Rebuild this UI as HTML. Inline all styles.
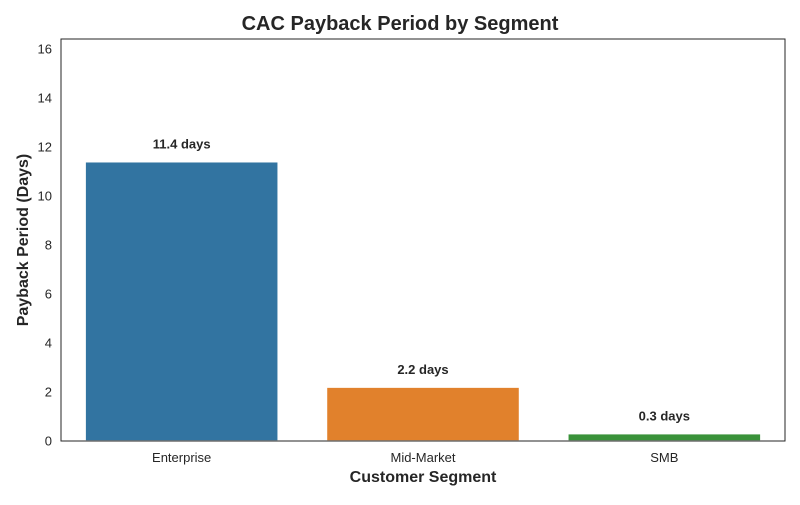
<!DOCTYPE html>
<html><head><meta charset="utf-8"><style>
body{margin:0;background:#fff;font-family:"Liberation Sans",Arial,sans-serif}
</style></head><body>
<svg id="chart" width="800" height="500" xmlns="http://www.w3.org/2000/svg" font-family="Liberation Sans, Arial, sans-serif"></svg>
<script>
const categories = ["Enterprise","Mid-Market","SMB"];
const values = [11.4, 2.2, 0.3];
const valueLabels = ["11.4 days","2.2 days","0.3 days"];
const yTicks = [0,2,4,6,8,10,12,14,16];
const colors = ["#3274a1","#e1812c","#3a923a"];
const L=61,R=785,T=39,B=441,YMAX=16.41;
const svg=document.getElementById('chart');
const NS="http://www.w3.org/2000/svg";
function y(v){return B-(v/YMAX)*(B-T);}
const bw=(R-L)/categories.length;
function x(i){return L+bw*i+bw/2;}
function mk(tag,attrs,text){const e=document.createElementNS(NS,tag);for(const k in attrs)e.setAttribute(k,attrs[k]);if(text!==undefined)e.textContent=text;svg.appendChild(e);return e;}
let t=mk('text',{x:400,y:30,'text-anchor':'middle','font-size':20,'font-weight':'bold',fill:'#262626'},'CAC Payback Period by Segment');


yTicks.forEach(v=>{
  const e=mk('text',{x:L-9,y:y(v)+4.5,'text-anchor':'end','font-size':13,fill:'#262626'},String(v));
  
  
});
categories.forEach((c,i)=>{
  const w=bw*0.8;
  const r=mk('rect',{x:x(i)-w/2,y:y(values[i]),width:w,height:B-y(values[i]),fill:colors[i],stroke:'#ffffff','stroke-width':1.5});
  
  
  const l=mk('text',{x:x(i),y:y(values[i])-13,'text-anchor':'middle','font-size':13,'font-weight':'bold',fill:'#262626'},valueLabels[i]);
  
  
  const xl=mk('text',{x:x(i),y:B+21,'text-anchor':'middle','font-size':13,fill:'#262626'},c);
  
  
});
const f=mk('rect',{x:L,y:T,width:R-L,height:B-T,fill:'none',stroke:'#262626','stroke-width':1});


const xt=mk('text',{x:(L+R)/2,y:482,'text-anchor':'middle','font-size':16,'font-weight':'bold',fill:'#262626'},'Customer Segment');


const yt=mk('text',{x:0,y:0,'text-anchor':'middle','font-size':16,'font-weight':'bold',fill:'#262626',transform:'translate(28,240) rotate(-90)'},'Payback Period (Days)');


</script>
</body></html>
